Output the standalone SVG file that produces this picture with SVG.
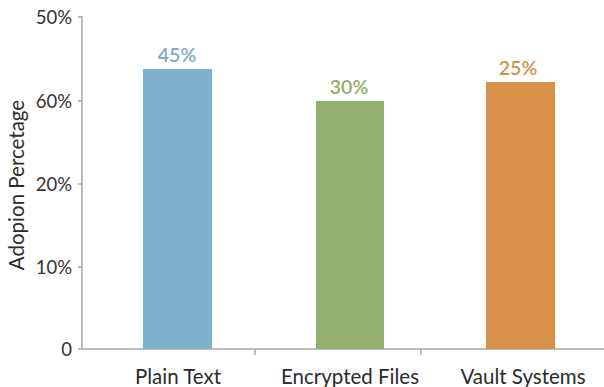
<svg xmlns="http://www.w3.org/2000/svg" width="604" height="387" viewBox="0 0 604 387">
  <style>
    .tick { font-family: Lato, "Open Sans", "Liberation Sans", sans-serif; font-size: 18.5px; fill: #333; }
    .title { font-family: Lato, "Open Sans", "Liberation Sans", sans-serif; font-size: 20.5px; fill: #2b2b2b; text-anchor: middle; }
    .cat { font-family: Lato, "Open Sans", "Liberation Sans", sans-serif; font-size: 20.5px; fill: #2b2b2b; text-anchor: middle; }
    .val { font-family: Lato, "Open Sans", "Liberation Sans", sans-serif; font-size: 19.5px; font-weight: 600; text-anchor: middle; }
    .axis { stroke: #a8a8a8; stroke-width: 1.5; fill: none; }
  </style>
  <rect width="604" height="387" fill="#ffffff"/>

  <!-- axes -->
  <g id="axes">
    <path class="axis" d="M82 16 V349 M78 349 H604 M78 17 H82 M78 101 H82 M78 184 H82 M78 267 H82 M255 349 V355 M421 349 V355"/>
    <text class="tick" x="72" y="24" text-anchor="end">50%</text>
    <text class="tick" x="72" y="108" text-anchor="end">60%</text>
    <text class="tick" x="72" y="191" text-anchor="end">20%</text>
    <text class="tick" x="72" y="274" text-anchor="end">10%</text>
    <text class="tick" x="72" y="356" text-anchor="end">0</text>
    <text class="title" transform="translate(24 185) rotate(-90)">Adopion Percetage</text>
  </g>

  <g id="bar-plain">
    <rect x="143" y="69" width="69" height="280" fill="#7fb0cc"/>
    <text class="val" x="177" y="62" fill="#80a9c4">45%</text>
    <text class="cat" x="178" y="384">Plain Text</text>
  </g>
  <g id="bar-encrypted">
    <rect x="316" y="101" width="68" height="248" fill="#93af6d"/>
    <text class="val" x="349" y="94" fill="#93ad6b">30%</text>
    <text class="cat" x="350" y="384">Encrypted Files</text>
  </g>
  <g id="bar-vault">
    <rect x="486" y="82" width="69" height="267" fill="#d99149"/>
    <text class="val" x="518" y="75" fill="#d4924f">25%</text>
    <text class="cat" x="523" y="384">Vault Systems</text>
  </g>
</svg>
